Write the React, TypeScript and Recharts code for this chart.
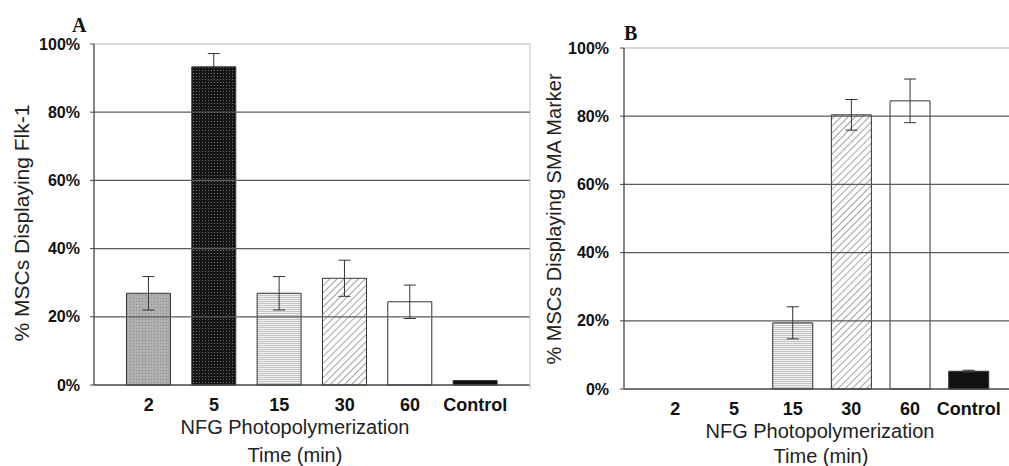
import { BarChart, Bar, XAxis, YAxis, ErrorBar, Cell, ReferenceLine } from 'recharts';

// 공통 카테고리 / 눈금
const categories = ['2', '5', '15', '30', '60', 'Control'];
const yTicks = [0, 20, 40, 60, 80, 100];
const gridTicks = [20, 40, 60, 80];

// A: Flk-1
const flkValues = [26.9, 93.3, 26.9, 31.3, 24.4, 1.3];
const flkErrors = [4.9, 3.9, 4.9, 5.3, 4.9, 0];

// B: SMA marker
const smaValues = [0, 0, 19.4, 80.4, 84.5, 5.2];
const smaErrors = [0, 0, 4.7, 4.5, 6.4, 0.3];

const fills = ['url(#pGray)', 'url(#pDark)', 'url(#pLines)', 'url(#pHatch)', '#ffffff', '#111111'];

const FONT = '"Liberation Sans", Arial, Helvetica, sans-serif';

function toRows(values: number[], errors: number[]) {
  return categories.map((name, i) => ({ name, value: values[i], err: errors[i] }));
}

function Patterns() {
  return (
    <defs>
      <pattern id="pGray" width="3" height="3" patternUnits="userSpaceOnUse">
        <rect width="3" height="3" fill="#b0b0b0" />
        <rect x="1" y="1" width="1" height="1" fill="#909090" />
      </pattern>
      <pattern id="pDark" width="3" height="3" patternUnits="userSpaceOnUse">
        <rect width="3" height="3" fill="#151515" />
        <rect x="1" y="1" width="1" height="1" fill="#6e6e6e" />
      </pattern>
      <pattern id="pLines" width="3" height="2" patternUnits="userSpaceOnUse">
        <rect width="3" height="2" fill="#efefef" />
        <rect y="1" width="3" height="1" fill="#c4c4c4" />
      </pattern>
      <pattern id="pHatch" width="5" height="5" patternUnits="userSpaceOnUse" patternTransform="rotate(45)">
        <rect width="5" height="5" fill="#ffffff" />
        <line x1="0" y1="0" x2="0" y2="5" stroke="#8a8a8a" strokeWidth="1.6" />
      </pattern>
    </defs>
  );
}

interface PanelProps {
  values: number[];
  errors: number[];
  width: number;
  height: number;
  margin: { top: number; right: number; left: number; bottom: number };
  yWidth: number;
  xHeight: number;
  pad: { left: number; right: number };
  tickMargin: number;
  yTickMargin: number;
}

function Panel({ values, errors, width, height, margin, yWidth, xHeight, pad, tickMargin, yTickMargin }: PanelProps) {
  const data = toRows(values, errors);
  return (
    <BarChart width={width} height={height} data={data} margin={margin} barCategoryGap="16%" style={{ fontFamily: FONT }}>
      <Patterns />
      {gridTicks.map((t) => (
        <ReferenceLine key={t} y={t} stroke="#5a5a5a" strokeWidth={1.2} />
      ))}
      <ReferenceLine y={100} stroke="#b0b0b0" strokeWidth={1} />
      <XAxis
        dataKey="name"
        height={xHeight}
        padding={pad}
        tickLine={false}
        tickSize={0}
        tickMargin={tickMargin}
        axisLine={{ stroke: '#444', strokeWidth: 1.3 }}
        tick={{ fontSize: 18, fontWeight: 'bold', fill: '#111' }}
        interval={0}
      />
      <YAxis
        width={yWidth}
        domain={[0, 100]}
        ticks={yTicks}
        tickFormatter={(v: number) => `${v}%`}
        tickSize={4}
        tickMargin={yTickMargin}
        axisLine={{ stroke: '#444', strokeWidth: 1.3 }}
        tickLine={{ stroke: '#444' }}
        tick={{ fontSize: 16, fontWeight: 'bold', fill: '#111' }}
      />
      <Bar dataKey="value" stroke="#333" strokeWidth={1} isAnimationActive={false}>
        {data.map((d, i) => (
          <Cell key={d.name} fill={fills[i]} />
        ))}
        <ErrorBar dataKey="err" width={6} stroke="#333" strokeWidth={1} direction="y" />
      </Bar>
    </BarChart>
  );
}

export default function App() {
  return (
    <div style={{ position: 'absolute', left: 0, top: 0, width: 1009, height: 466, background: '#fff', fontFamily: FONT }}>
      <div style={{ position: 'absolute', left: 0, top: 0 }}>
        <Panel
          values={flkValues}
          errors={flkErrors}
          width={540}
          height={466}
          margin={{ top: 44, right: 10, left: 0, bottom: 0 }}
          yWidth={94}
          xHeight={81}
          pad={{ left: 22, right: 22 }}
          tickMargin={13}
          yTickMargin={10}
        />
      </div>
      <div style={{ position: 'absolute', left: 540, top: 0 }}>
        <Panel
          values={smaValues}
          errors={smaErrors}
          width={469}
          height={466}
          margin={{ top: 48, right: 0, left: 0, bottom: 0 }}
          yWidth={84}
          xHeight={77}
          pad={{ left: 22, right: 11 }}
          tickMargin={13}
          yTickMargin={11}
        />
      </div>
      <svg width={1009} height={466} style={{ position: 'absolute', left: 0, top: 0, pointerEvents: 'none' }}>
        {/* 패널 경계선 */}
        <line x1={530} y1={44} x2={530} y2={389} stroke="#c8c8c8" strokeWidth={1} />
        <text x={72} y={32} fontFamily='"Liberation Serif", "Times New Roman", serif' fontWeight="bold" fontSize={20} fill="#111">A</text>
        <text x={624} y={40} fontFamily='"Liberation Serif", "Times New Roman", serif' fontWeight="bold" fontSize={20} fill="#111">B</text>
        <text x={21} y={223} transform="rotate(-90, 21, 223)" textAnchor="middle" dominantBaseline="central" fontSize={21} fill="#222" fontFamily={FONT}>
          % MSCs Displaying Flk-1
        </text>
        <text x={554} y={219} transform="rotate(-90, 554, 219)" textAnchor="middle" dominantBaseline="central" fontSize={20} fill="#222" fontFamily={FONT}>
          % MSCs Displaying SMA Marker
        </text>
        <text x={295} y={434} textAnchor="middle" fontSize={20} fill="#222" fontFamily={FONT}>NFG Photopolymerization</text>
        <text x={295} y={462} textAnchor="middle" fontSize={20} fill="#222" fontFamily={FONT}>Time (min)</text>
        <text x={820} y={438} textAnchor="middle" fontSize={20} fill="#222" fontFamily={FONT}>NFG Photopolymerization</text>
        <text x={821} y={463} textAnchor="middle" fontSize={20} fill="#222" fontFamily={FONT}>Time (min)</text>
      </svg>
    </div>
  );
}
